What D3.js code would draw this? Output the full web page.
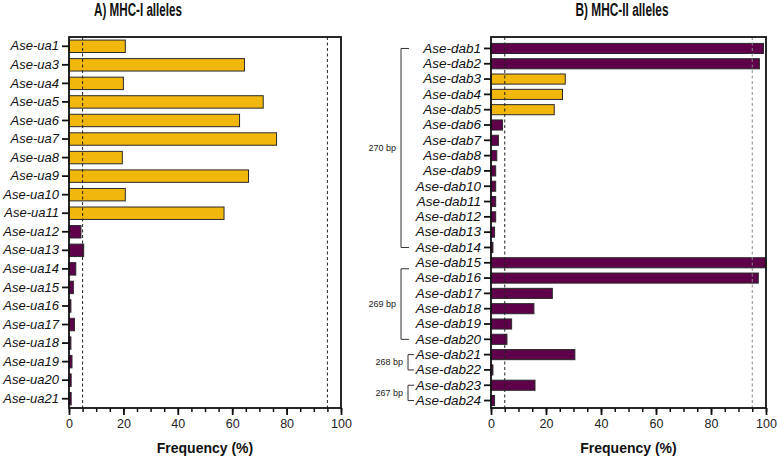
<!DOCTYPE html>
<html>
<head>
<meta charset="utf-8">
<script src="https://cdn.jsdelivr.net/npm/d3@7"></script>
<style>
  html, body { margin: 0; padding: 0; background: #fff; }
  svg { display: block; font-family: "Liberation Sans", Arial, sans-serif; }
</style>
</head>
<body>
<div id="chart"></div>
<script>
/* MHC allele frequency bars, two panels */

// Panel A — MHC-I alleles
var MHC1_ALLELES = ["Ase-ua1", "Ase-ua3", "Ase-ua4", "Ase-ua5", "Ase-ua6", "Ase-ua7", "Ase-ua8",
  "Ase-ua9", "Ase-ua10", "Ase-ua11", "Ase-ua12", "Ase-ua13", "Ase-ua14", "Ase-ua15", "Ase-ua16",
  "Ase-ua17", "Ase-ua18", "Ase-ua19", "Ase-ua20", "Ase-ua21"];
var MHC1_FREQ = [20.7, 64.5, 20, 71.4, 62.7, 76.3, 19.6, 66, 20.7, 57,
  4.4, 5.4, 2.5, 1.6, 0.7, 2, 0.7, 1.1, 0.8, 0.8];
// "mid" = yellow bars, "other" = purple bars
var MHC1_CLASS = ["mid", "mid", "mid", "mid", "mid", "mid", "mid", "mid", "mid", "mid",
  "other", "other", "other", "other", "other", "other", "other", "other", "other", "other"];

// Panel B — MHC-II alleles
var MHC2_ALLELES = ["Ase-dab1", "Ase-dab2", "Ase-dab3", "Ase-dab4", "Ase-dab5", "Ase-dab6",
  "Ase-dab7", "Ase-dab8", "Ase-dab9", "Ase-dab10", "Ase-dab11", "Ase-dab12", "Ase-dab13",
  "Ase-dab14", "Ase-dab15", "Ase-dab16", "Ase-dab17", "Ase-dab18", "Ase-dab19", "Ase-dab20",
  "Ase-dab21", "Ase-dab22", "Ase-dab23", "Ase-dab24"];
var MHC2_FREQ = [99.1, 97.6, 27, 26, 23, 4.2, 2.7, 2.1, 1.7, 1.7, 1.7, 1.7, 1.3, 0.7,
  99.8, 97.2, 22.3, 15.6, 7.5, 5.8, 30.5, 0.7, 16, 1.3];
var MHC2_CLASS = ["other", "other", "mid", "mid", "mid", "other", "other", "other", "other",
  "other", "other", "other", "other", "other", "other", "other", "other", "other", "other",
  "other", "other", "other", "other", "other"];

// Allele length groups (bp) for panel B
var BP_GROUPS = [
  { label: "270 bp", from: "Ase-dab1", to: "Ase-dab14" },
  { label: "269 bp", from: "Ase-dab15", to: "Ase-dab20" },
  { label: "268 bp", from: "Ase-dab21", to: "Ase-dab22" },
  { label: "267 bp", from: "Ase-dab23", to: "Ase-dab24" }
];

var X_TICKS = [0, 20, 40, 60, 80, 100];
var THRESHOLDS = [5, 95];

var COLORS = { mid: "#f1b70c", other: "#5e0049" };

var svg = d3.select("#chart").append("svg")
  .attr("width", 777)
  .attr("height", 458);

function drawPanel(opt) {
  var g = svg.append("g");

  var x = d3.scaleLinear().domain([0, 100]).range([opt.x0, opt.x1]);
  var y = d3.scaleBand().domain(opt.alleles).range(opt.yRange).paddingInner(opt.pad).paddingOuter(opt.pad / 2);

  // bars
  g.selectAll("rect.bar")
    .data(opt.freq)
    .enter().append("rect")
    .attr("class", "bar")
    .attr("x", x(0))
    .attr("y", function(d, i) { return y(opt.alleles[i]); })
    .attr("width", function(d) { return x(d) - x(0); })
    .attr("height", y.bandwidth())
    .attr("fill", function(d, i) { return COLORS[opt.classes[i]]; })
    .attr("stroke", "#2a2a2a")
    .attr("stroke-width", 1);

  // threshold lines
  THRESHOLDS.forEach(function(t, i) {
    g.append("line")
      .attr("x1", x(t)).attr("x2", x(t))
      .attr("y1", opt.top).attr("y2", opt.bottom)
      .attr("stroke", opt.dashColors[i])
      .attr("stroke-width", 1)
      .attr("stroke-dasharray", "3,2.5");
  });

  // frame
  g.append("rect")
    .attr("x", opt.x0).attr("y", opt.top)
    .attr("width", opt.x1 - opt.x0).attr("height", opt.bottom - opt.top)
    .attr("fill", "none")
    .attr("stroke", "#111")
    .attr("stroke-width", 1.8);

  // y axis
  var yAxis = g.append("g")
    .attr("transform", "translate(" + opt.x0 + ",0)")
    .call(d3.axisLeft(y).tickSize(7).tickPadding(3));
  yAxis.select(".domain").remove();
  yAxis.selectAll(".tick line").attr("stroke", "#111").attr("stroke-width", 1.8);
  yAxis.selectAll(".tick text")
    .attr("font-family", "\"Liberation Sans\", Arial, sans-serif")
    .attr("font-style", "italic")
    .attr("font-size", opt.labelSize + "px")
    .attr("fill", "#111");

  // x axis with minor ticks every 5
  var xMinor = g.append("g")
    .attr("transform", "translate(0," + opt.bottom + ")")
    .call(d3.axisBottom(x).tickValues(d3.range(0, 101, 5)).tickSize(4).tickFormat(""));
  xMinor.select(".domain").remove();
  xMinor.selectAll(".tick line").attr("stroke", "#111").attr("stroke-width", 1.5);

  var xAxis = g.append("g")
    .attr("transform", "translate(0," + opt.bottom + ")")
    .call(d3.axisBottom(x).tickValues(X_TICKS).tickSize(7).tickPadding(4));
  xAxis.select(".domain").remove();
  xAxis.selectAll(".tick line").attr("stroke", "#111").attr("stroke-width", 1.8);
  xAxis.selectAll(".tick text")
    .attr("font-family", "\"Liberation Sans\", Arial, sans-serif")
    .attr("font-size", "12.5px")
    .attr("fill", "#222");

  // axis title
  g.append("text")
    .attr("x", (opt.x0 + opt.x1) / 2)
    .attr("y", opt.bottom + 45)
    .attr("text-anchor", "middle")
    .attr("font-size", "14px")
    .attr("font-weight", "bold")
    .attr("fill", "#111")
    .text("Frequency (%)");

  // panel title (condensed look)
  g.append("text")
    .attr("x", opt.titleX)
    .attr("y", 16)
    .attr("text-anchor", "middle")
    .attr("font-family", "\"Liberation Sans Narrow\", \"Liberation Sans\", Arial, sans-serif")
    .attr("font-size", "17.5px")
    .attr("font-weight", "bold")
    .attr("fill", "#111")
    .attr("textLength", opt.titleLen)
    .attr("lengthAdjust", "spacingAndGlyphs")
    .text(opt.title);

  return { x: x, y: y, g: g };
}

drawPanel({
  alleles: MHC1_ALLELES, freq: MHC1_FREQ, classes: MHC1_CLASS,
  x0: 69, x1: 341, top: 37, bottom: 408,
  yRange: [37, 408], pad: 0.33,
  labelSize: 13,
  dashColors: ["#222", "#222"],
  title: "A) MHC-I alleles", titleX: 138, titleLen: 88
});

var panelB = drawPanel({
  alleles: MHC2_ALLELES, freq: MHC2_FREQ, classes: MHC2_CLASS,
  x0: 491, x1: 766, top: 37, bottom: 408,
  yRange: [40.8, 408.2], pad: 0.34,
  labelSize: 13.5,
  dashColors: ["#222", "#8a8a8a"],
  title: "B) MHC-II alleles", titleX: 622, titleLen: 93
});

// bp group brackets
var yB = panelB.y;
BP_GROUPS.forEach(function(grp, i) {
  var y1 = yB(grp.from) + yB.bandwidth() / 2;
  var y2 = yB(grp.to) + yB.bandwidth() / 2;
  var big = i < 2;
  var vx = big ? 401 : 408;
  var hx = big ? 409 : 414;
  if (grp.label === "269 bp") { y1 += 6; }
  svg.append("path")
    .attr("d", "M" + hx + "," + y1 + "H" + vx + "V" + y2 + "H" + hx)
    .attr("fill", "none")
    .attr("stroke", "#333")
    .attr("stroke-width", 1);
  svg.append("text")
    .attr("x", vx - 5)
    .attr("y", (y1 + y2) / 2)
    .attr("dy", "0.35em")
    .attr("text-anchor", "end")
    .attr("font-size", "9px")
    .attr("fill", "#222")
    .text(grp.label);
});
</script>
</body>
</html>
